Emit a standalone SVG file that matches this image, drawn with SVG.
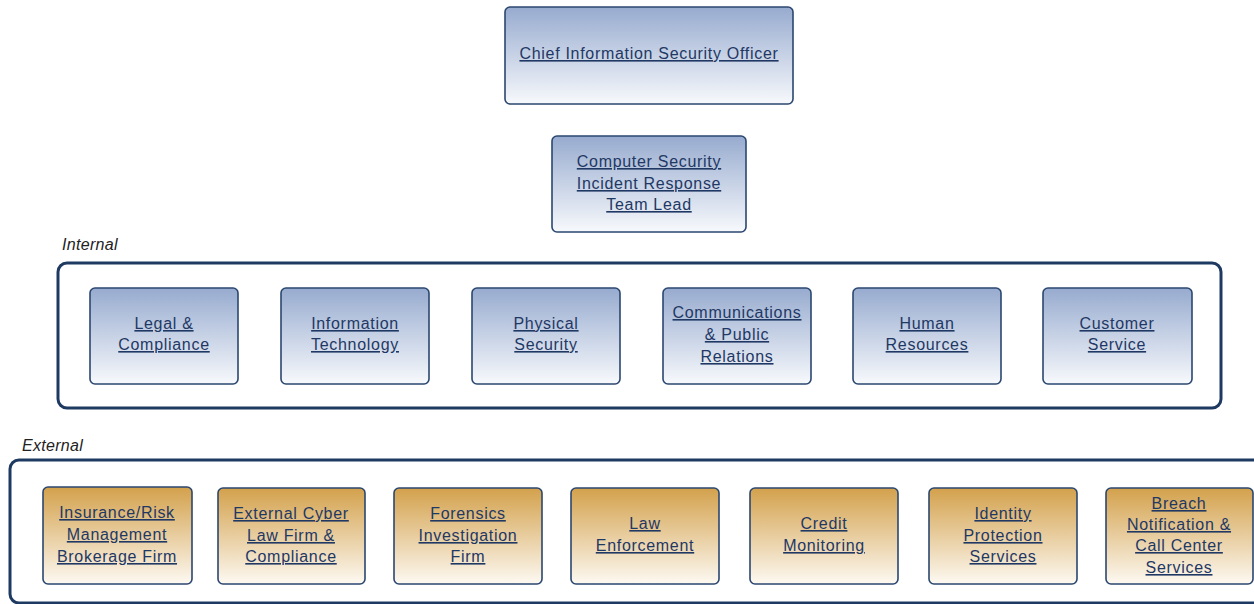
<svg xmlns="http://www.w3.org/2000/svg" width="1254" height="604" viewBox="0 0 1254 604">
<defs>
<linearGradient id="gBlue" x1="0" y1="0" x2="0" y2="1">
<stop offset="0" stop-color="#97abcf"/>
<stop offset="1" stop-color="#f7f9fc"/>
</linearGradient>
<linearGradient id="gOrange" x1="0" y1="0" x2="0" y2="1">
<stop offset="0" stop-color="#d3a14c"/>
<stop offset="1" stop-color="#fdf9f2"/>
</linearGradient>
</defs>
<style>
.box{stroke:#2b4770;stroke-width:1.6}
.blue{fill:url(#gBlue)}
.orange{fill:url(#gOrange)}
.cont{fill:none;stroke:#1f3a62;stroke-width:3}
.t{font-family:"Liberation Sans",Arial,sans-serif;font-size:16px;letter-spacing:0.7px;fill:#1f3864;text-anchor:middle;text-decoration:underline}
.lbl{font-family:"Liberation Sans",Arial,sans-serif;font-size:16px;font-style:italic;letter-spacing:0.3px;fill:#222}
</style>
<rect width="1254" height="604" fill="#ffffff"/>

<g id="internal-group">
<rect class="cont" x="58" y="263" width="1163" height="145" rx="9"/>
<text class="lbl" x="62" y="250">Internal</text>
</g>
<g id="external-group">
<rect class="cont" x="10" y="460" width="1270" height="143" rx="9"/>
<text class="lbl" x="22" y="451">External</text>
</g>

<g id="ciso">
<rect class="box blue" x="505" y="7" width="288" height="97" rx="5"/>
<text class="t" x="649" y="59">Chief Information Security Officer</text>
</g>
<g id="csirt-lead">
<rect class="box blue" x="552" y="136" width="194" height="96" rx="5"/>
<text class="t" x="649" y="167">Computer Security</text>
<text class="t" x="649" y="189">Incident Response</text>
<text class="t" x="649" y="210">Team Lead</text>
</g>

<g id="legal">
<rect class="box blue" x="90" y="288" width="148" height="96" rx="5"/>
<text class="t" x="164" y="329">Legal &amp;</text>
<text class="t" x="164" y="350">Compliance</text>
</g>
<g id="it">
<rect class="box blue" x="281" y="288" width="148" height="96" rx="5"/>
<text class="t" x="355" y="329">Information</text>
<text class="t" x="355" y="350">Technology</text>
</g>
<g id="physical">
<rect class="box blue" x="472" y="288" width="148" height="96" rx="5"/>
<text class="t" x="546" y="329">Physical</text>
<text class="t" x="546" y="350">Security</text>
</g>
<g id="comms">
<rect class="box blue" x="663" y="288" width="148" height="96" rx="5"/>
<text class="t" x="737" y="318">Communications</text>
<text class="t" x="737" y="340">&amp; Public</text>
<text class="t" x="737" y="362">Relations</text>
</g>
<g id="hr">
<rect class="box blue" x="853" y="288" width="148" height="96" rx="5"/>
<text class="t" x="927" y="329">Human</text>
<text class="t" x="927" y="350">Resources</text>
</g>
<g id="customer">
<rect class="box blue" x="1043" y="288" width="149" height="96" rx="5"/>
<text class="t" x="1117" y="329">Customer</text>
<text class="t" x="1117" y="350">Service</text>
</g>

<g id="insurance">
<rect class="box orange" x="43" y="487" width="149" height="97" rx="5"/>
<text class="t" x="117" y="518">Insurance/Risk</text>
<text class="t" x="117" y="540">Management</text>
<text class="t" x="117" y="562">Brokerage Firm</text>
</g>
<g id="cyber-law">
<rect class="box orange" x="218" y="488" width="147" height="96" rx="5"/>
<text class="t" x="291" y="519">External Cyber</text>
<text class="t" x="291" y="541">Law Firm &amp;</text>
<text class="t" x="291" y="562">Compliance</text>
</g>
<g id="forensics">
<rect class="box orange" x="394" y="488" width="148" height="96" rx="5"/>
<text class="t" x="468" y="519">Forensics</text>
<text class="t" x="468" y="541">Investigation</text>
<text class="t" x="468" y="562">Firm</text>
</g>
<g id="law-enforcement">
<rect class="box orange" x="571" y="488" width="148" height="96" rx="5"/>
<text class="t" x="645" y="529">Law</text>
<text class="t" x="645" y="551">Enforcement</text>
</g>
<g id="credit">
<rect class="box orange" x="750" y="488" width="148" height="96" rx="5"/>
<text class="t" x="824" y="529">Credit</text>
<text class="t" x="824" y="551">Monitoring</text>
</g>
<g id="identity">
<rect class="box orange" x="929" y="488" width="148" height="96" rx="5"/>
<text class="t" x="1003" y="519">Identity</text>
<text class="t" x="1003" y="541">Protection</text>
<text class="t" x="1003" y="562">Services</text>
</g>
<g id="breach">
<rect class="box orange" x="1106" y="488" width="147" height="96" rx="5"/>
<text class="t" x="1179" y="509">Breach</text>
<text class="t" x="1179" y="530">Notification &amp;</text>
<text class="t" x="1179" y="551">Call Center</text>
<text class="t" x="1179" y="573">Services</text>
</g>
</svg>
